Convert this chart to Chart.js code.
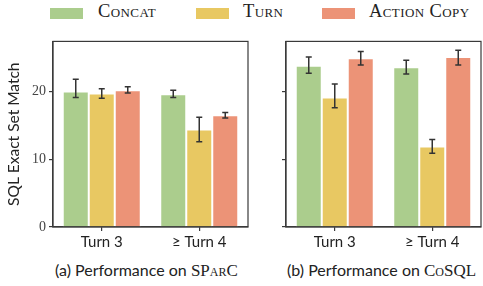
<!DOCTYPE html>
<html>
<head>
<meta charset="utf-8">
<script src="https://cdn.jsdelivr.net/npm/chart.js@4.4.1/dist/chart.umd.min.js"></script>
<style>
  body { margin: 0; background: #fff; width: 483px; height: 286px; position: relative; overflow: hidden; }
  canvas { position: absolute; }
  .patch { position: absolute; top: 8px; width: 33px; height: 11px; }
  .leg { position: absolute; top: 1px; font-family: "Liberation Serif", serif; font-variant: small-caps; font-size: 18.5px; letter-spacing: 0.4px; color: #222; white-space: nowrap; }
  .cap { position: absolute; top: 260px; font-family: Lato, sans-serif; font-size: 16px; color: #222; white-space: nowrap; }
  .cap span { font-family: "Liberation Serif", serif; font-variant: small-caps; font-size: 17px; }
</style>
</head>
<body>

<div class="patch" style="left:50px; background:#abcd8d"></div>
<div class="leg" style="left:98px">Concat</div>
<div class="patch" style="left:196px; background:#e8c862"></div>
<div class="leg" style="left:243px">Turn</div>
<div class="patch" style="left:322px; background:#ec9377"></div>
<div class="leg" style="left:369px">Action Copy</div>

<canvas id="chart-sparc" width="250" height="225" style="left:0; top:30px"></canvas>
<canvas id="chart-cosql" width="233" height="225" style="left:250px; top:30px"></canvas>

<div class="cap" id="cap-a" style="left:55px">(a) Performance on <span>SParC</span></div>
<div class="cap" id="cap-b" style="left:287px">(b) Performance on <span>CoSQL</span></div>

<script>
// categories and tick labels
const categories = ['Turn 3', '≥ Turn 4'];
const yTicks = [0, 10, 20];
const Y_MAX = 27.4;

// series names
const seriesNames = ['Concat', 'Turn', 'Action Copy'];

// SParC values (mean, low, high of error bar)
const sparcConcat = [20.0, 19.6];
const sparcConcatLow = [19.1, 19.1];
const sparcConcatHigh = [21.8, 20.2];
const sparcTurn = [19.7, 14.4];
const sparcTurnLow = [19.0, 12.6];
const sparcTurnHigh = [20.4, 16.2];
const sparcCopy = [20.2, 16.5];
const sparcCopyLow = [19.8, 16.1];
const sparcCopyHigh = [20.7, 16.9];

// CoSQL values
const cosqlConcat = [23.8, 23.6];
const cosqlConcatLow = [22.7, 22.6];
const cosqlConcatHigh = [25.1, 24.6];
const cosqlTurn = [19.1, 11.9];
const cosqlTurnLow = [17.6, 10.9];
const cosqlTurnHigh = [21.1, 12.9];
const cosqlCopy = [24.9, 25.1];
const cosqlCopyLow = [23.9, 23.9];
const cosqlCopyHigh = [25.9, 26.1];

// colors
const COLOR_GREEN = '#abcd8d';
const COLOR_YELLOW = '#e8c862';
const COLOR_RED = '#ec9377';
const COLOR_FRAME = '#3a3a3a';
const COLOR_TEXT = '#222';


// draws the error bars and the box round the plot
const errorBarPlugin = {
    id: 'errorBars',
    afterDatasetsDraw(chart) {
        const ctx = chart.ctx;
        const yScale = chart.scales.y;
        ctx.save();
        ctx.strokeStyle = '#333';
        ctx.lineWidth = 1.5;
        chart.data.datasets.forEach(function(ds, di) {
            const meta = chart.getDatasetMeta(di);
            meta.data.forEach(function(bar, i) {
                const yLow = yScale.getPixelForValue(ds.errLow[i]);
                const yHigh = yScale.getPixelForValue(ds.errHigh[i]);
                ctx.beginPath();
                ctx.moveTo(bar.x, yLow);
                ctx.lineTo(bar.x, yHigh);
                ctx.moveTo(bar.x - 3, yLow);
                ctx.lineTo(bar.x + 3, yLow);
                ctx.moveTo(bar.x - 3, yHigh);
                ctx.lineTo(bar.x + 3, yHigh);
                ctx.stroke();
            });
        });
        // frame on all four sides
        const a = chart.chartArea;
        ctx.strokeStyle = COLOR_FRAME;
        ctx.lineWidth = 1.2;
        ctx.strokeRect(a.left, a.top, a.right - a.left, a.bottom - a.top);
        ctx.restore();
    }
};


function makeDataset(label, values, low, high, color) {
    return {
        label: label,
        data: values,
        errLow: low,
        errHigh: high,
        backgroundColor: color,
        borderColor: '#ffffff',
        borderWidth: 1,
        borderSkipped: 'bottom',
        categoryPercentage: 0.8,
        barPercentage: 1.0
    };
}


function makeChart(canvasId, datasets, showYLabels, yAxisWidth) {
    const ctx = document.getElementById(canvasId).getContext('2d');
    return new Chart(ctx, {
        type: 'bar',
        data: { labels: categories, datasets: datasets },
        plugins: [errorBarPlugin],
        options: {
            responsive: false,
            animation: false,
            layout: { padding: { top: 8, right: 2, left: 0, bottom: 0 } },
            plugins: {
                legend: { display: false },
                tooltip: { enabled: false }
            },
            scales: {
                x: {
                    grid: { display: true, drawOnChartArea: false, offset: false, tickLength: 4, tickColor: COLOR_FRAME, lineWidth: 1.2 },
                    border: { color: COLOR_FRAME, width: 1.2 },
                    ticks: { color: COLOR_TEXT, padding: 2, font: { family: 'Lato, sans-serif', size: 15 } },
                    afterFit: function(scale) { scale.height = 28; }
                },
                y: {
                    min: 0,
                    max: Y_MAX,
                    afterBuildTicks: function(scale) {
                        scale.ticks = yTicks.map(function(v) { return { value: v }; });
                    },
                    grid: { display: true, drawOnChartArea: false, tickLength: 4, tickColor: COLOR_FRAME, lineWidth: 1.2 },
                    border: { color: COLOR_FRAME, width: 1.2 },
                    ticks: {
                        color: '#444',
                        padding: 3,
                        font: { family: '"Liberation Serif", serif', size: 14 },
                        callback: function(v) { return showYLabels ? v : ''; }
                    },
                    title: {
                        display: showYLabels,
                        text: 'SQL Exact Set Match',
                        color: COLOR_TEXT,
                        padding: { top: 5, bottom: 4 },
                        font: { family: 'Lato, sans-serif', size: 15.5 }
                    },
                    afterFit: function(scale) { scale.width = yAxisWidth; }
                }
            }
        }
    });
}


makeChart('chart-sparc', [
    makeDataset(seriesNames[0], sparcConcat, sparcConcatLow, sparcConcatHigh, COLOR_GREEN),
    makeDataset(seriesNames[1], sparcTurn, sparcTurnLow, sparcTurnHigh, COLOR_YELLOW),
    makeDataset(seriesNames[2], sparcCopy, sparcCopyLow, sparcCopyHigh, COLOR_RED)
], true, 53);

makeChart('chart-cosql', [
    makeDataset(seriesNames[0], cosqlConcat, cosqlConcatLow, cosqlConcatHigh, COLOR_GREEN),
    makeDataset(seriesNames[1], cosqlTurn, cosqlTurnLow, cosqlTurnHigh, COLOR_YELLOW),
    makeDataset(seriesNames[2], cosqlCopy, cosqlCopyLow, cosqlCopyHigh, COLOR_RED)
], false, 36);
</script>
</body>
</html>
